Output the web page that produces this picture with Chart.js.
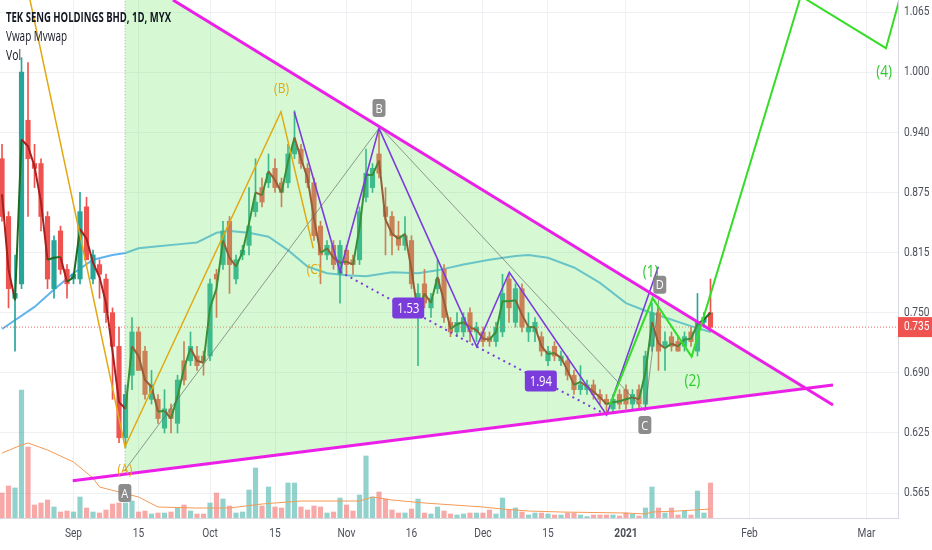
<!DOCTYPE html>
<html>
<head>
<meta charset="utf-8">
<script src="https://cdn.jsdelivr.net/npm/chart.js@4.4.0/dist/chart.umd.min.js"></script>
<style>
  html, body { margin: 0; padding: 0; background: #fff; }
  #wrap { width: 932px; height: 550px; position: relative; }
</style>
</head>
<body>
<div id="wrap"><canvas id="myChart"></canvas></div>
<script>
// daily bars, mid Aug 2020 -> 22 Jan 2021 (index = bar number)
const opens = [
  .910, .850, .765, .780, .950, .905, .905, .850, .775, .835,
  .795, .785, .785, .860, .785, .800, .785, .750, .715, .620,
  .685, .730, .710, .660, .660, .630, .650, .635, .700, .700,
  .705, .705, .705, .790, .800, .845, .785, .810, .820, .855,
  .880, .885, .900, .885, .885, .915, .920, .900, .885, .840,
  .810, .820, .790, .815, .805, .805, .870, .880, .915, .860,
  .850, .830, .820, .825, .760, .780, .755, .775, .795, .740,
  .730, .730, .750, .730, .730, .725, .720, .730, .785, .740,
  .775, .730, .730, .725, .700, .715, .700, .700, .685, .670,
  .670, .675, .665, .660, .650, .665, .670, .655, .670, .655,
  .715, .750, .715, .725, .720, .715, .730, .710, .740, .750];
const highs = [
  .925, .855, .810, 1.015, 1.010, .925, .910, .855, .830, .840,
  .800, .790, .875, .870, .815, .805, .790, .755, .735, .675,
  .745, .735, .715, .690, .665, .670, .655, .685, .720, .730,
  .715, .710, .785, .795, .845, .850, .810, .820, .880, .910,
  .890, .915, .910, .890, .925, .960, .925, .905, .890, .845,
  .825, .825, .825, .820, .810, .860, .920, .905, .940, .880,
  .855, .845, .850, .830, .780, .795, .770, .805, .800, .745,
  .750, .750, .755, .740, .735, .730, .740, .790, .790, .780,
  .780, .750, .745, .730, .715, .720, .710, .705, .690, .695,
  .680, .680, .670, .665, .665, .670, .675, .670, .675, .710,
  .760, .755, .730, .730, .725, .730, .735, .770, .750, .785];
const lows = [
  .845, .755, .710, .775, .850, .880, .835, .775, .765, .790,
  .765, .780, .780, .805, .780, .765, .740, .660, .615, .610,
  .670, .690, .660, .655, .635, .625, .625, .625, .675, .695,
  .690, .685, .700, .745, .795, .770, .780, .805, .810, .850,
  .860, .880, .875, .860, .880, .910, .900, .880, .825, .780,
  .805, .795, .760, .790, .790, .800, .865, .875, .890, .810,
  .810, .815, .815, .775, .695, .755, .745, .770, .740, .725,
  .725, .725, .720, .720, .715, .715, .715, .725, .740, .735,
  .730, .720, .720, .705, .695, .700, .695, .680, .665, .665,
  .665, .660, .655, .645, .645, .650, .650, .650, .650, .650,
  .710, .690, .690, .710, .710, .710, .715, .705, .735, .730];
const closes = [
  .850, .775, .770, 1.000, .910, .900, .850, .785, .825, .795,
  .780, .790, .855, .805, .810, .790, .750, .715, .620, .665,
  .730, .690, .665, .675, .640, .650, .640, .680, .680, .715,
  .695, .700, .780, .785, .835, .800, .805, .815, .840, .865,
  .865, .895, .880, .875, .915, .925, .905, .885, .830, .810,
  .820, .800, .820, .800, .800, .855, .895, .900, .895, .850,
  .830, .820, .830, .780, .770, .760, .765, .785, .745, .730,
  .740, .745, .730, .735, .720, .720, .735, .770, .755, .775,
  .735, .735, .740, .710, .710, .705, .705, .685, .670, .675,
  .675, .665, .660, .655, .660, .655, .655, .665, .655, .705,
  .750, .710, .720, .715, .710, .725, .720, .740, .745, .735];
// volume, thousand shares
const volumes = [
  250, 320, 300, 1280, 710, 130, 150, 180, 110, 60,
  70, 60, 210, 100, 60, 50, 80, 140, 150, 150,
  170, 60, 70, 40, 50, 50, 60, 100, 130, 70,
  40, 40, 150, 250, 190, 120, 50, 60, 280, 500,
  120, 310, 110, 100, 350, 350, 110, 80, 120, 110,
  50, 60, 200, 130, 70, 230, 620, 210, 260, 190,
  80, 50, 50, 90, 190, 50, 40, 110, 70, 40,
  30, 40, 50, 50, 50, 80, 40, 200, 80, 100,
  60, 30, 50, 50, 40, 30, 30, 50, 50, 30,
  15, 30, 30, 30, 30, 20, 50, 40, 20, 100,
  310, 100, 50, 100, 30, 70, 30, 270, 50, 350];
// daily vwap (dark line)
const vwapDaily = [
  .873, .795, .763, .930, .923, .902, .865, .805, .807, .808,
  .782, .787, .837, .827, .802, .787, .760, .710, .657, .650,
  .715, .705, .680, .673, .647, .648, .640, .663, .692, .713,
  .700, .698, .755, .775, .825, .807, .798, .813, .843, .875,
  .872, .897, .888, .875, .907, .932, .910, .890, .848, .812,
  .817, .807, .802, .803, .800, .838, .893, .893, .908, .847,
  .832, .827, .832, .795, .748, .770, .760, .787, .762, .733,
  .738, .740, .735, .732, .723, .722, .730, .762, .762, .763,
  .748, .735, .735, .715, .707, .708, .703, .690, .675, .678,
  .673, .668, .662, .655, .657, .658, .660, .662, .660, .688,
  .740, .718, .713, .718, .715, .722, .723, .738, .743, .750];
// moving vwap (light blue), read at some bars
const mvwapBar = [0, 5, 8, 11, 14, 17, 19, 21, 24, 27, 30, 33, 35, 38, 41, 44, 47, 50, 53, 56, 60, 64, 67, 71, 75, 79, 81, 84, 88, 92, 96, 99, 102, 106, 109];
const mvwapVal = [.733, .756, .774, .791, .805, .810, .812, .817, .819, .821, .823, .833, .835, .833, .829, .815, .798, .791, .789, .788, .792, .791, .794, .800, .805, .809, .810, .807, .797, .781, .760, .752, .745, .736, .730];
// volume moving average (orange)
const volMaBar = [0, 3, 4, 7, 11, 14, 15, 18, 21, 24, 30, 35, 40, 44, 46, 55, 57, 60, 65, 74, 77, 81, 86, 96, 99, 100, 104, 109];
const volMaVal = [650, 730, 750, 680, 560, 400, 310, 260, 210, 110, 100, 100, 140, 160, 170, 170, 210, 180, 150, 110, 90, 70, 60, 50, 40, 60, 70, 90];

const xTickPos = [11, 21, 32, 42, 53, 63, 74, 84, 96, 115, 133];
const xTickLabels = ['Sep', '15', 'Oct', '15', 'Nov', '16', 'Dec', '15', '2021', 'Feb', 'Mar'];
const yTickPos = [0.5625, 0.625, 0.6875, 0.75, 0.8125, 0.875, 0.9375, 1.0, 1.0625];
const yTickLabels = ['0.565', '0.625', '0.690', '0.750', '0.815', '0.875', '0.940', '1.000', '1.065'];
const lastPrice = 0.735;

// drawings, in (bar, price)
const upperTrend = [{x: 26.3, y: 1.075}, {x: 127.85, y: 0.6541}];
const lowerTrend = [{x: 10.88, y: 0.5754}, {x: 127.85, y: 0.6749}];
const triangle = [{x: 18.92, y: 1.1056}, {x: 123.85, y: 0.6713}, {x: 18.92, y: 0.5823}, {x: 18.92, y: 1.1056}];
const abcWave = [{x: 3.49, y: 1.101}, {x: 18.92, y: 0.6107}, {x: 42.92, y: 0.9589}, {x: 47.89, y: 0.8169}];
const purpleZig = [{x: 44.97, y: 0.9589}, {x: 52.0, y: 0.7926}, {x: 58.0, y: 0.9416}, {x: 73.03, y: 0.7147}, {x: 78.05, y: 0.7920}, {x: 93.03, y: 0.6437}, {x: 100.97, y: 0.7978}];
const purpleDots = [{x: 52.0, y: 0.7926}, {x: 73.03, y: 0.7147}, {x: 93.03, y: 0.6437}];
const abcdLegs = [{x: 18.92, y: 0.5865}, {x: 58.15, y: 0.943}, {x: 98.92, y: 0.6478}, {x: 101.08, y: 0.7653}];
const impulse = [{x: 93.54, y: 0.6541}, {x: 100.1, y: 0.7650}, {x: 106.1, y: 0.7043}, {x: 122.9, y: 1.0791}, {x: 136.0, y: 1.0249}, {x: 138.9, y: 1.0958}];

const waveText = ['(A)', '(B)', '(C)', '(1)', '(2)', '(4)'];
const waveAtX = [18.9, 43.0, 48.0, 99.8, 106.2, 135.7];
const waveAtY = [0.5865, 0.9825, 0.7944, 0.7923, 0.6790, 1.0001];
const pointText = ['A', 'B', 'C', 'D'];
const pointAtX = [18.9, 58.0, 98.9, 101.2];
const pointAtY = [0.5626, 0.9627, 0.6333, 0.7790];
const ratioText = ['1.53', '1.94'];
const ratioAtX = [62.5, 82.9];
const ratioAtY = [0.7549, 0.679];

const UP = '#26a69a', DOWN = '#ef5350';
const isUp = i => closes[i] >= opens[i];
const bars = closes.map((c, i) => i);

function squeezeText(ctx, txt, x, y, font, color, align, sx) {
  ctx.save();
  ctx.font = font;
  ctx.fillStyle = color;
  ctx.textBaseline = 'middle';
  ctx.textAlign = 'left';
  const w = ctx.measureText(txt).width * sx;
  let left = x;
  if (align === 'center') left = x - w / 2;
  if (align === 'right') left = x - w;
  ctx.translate(left, y);
  ctx.scale(sx, 1);
  ctx.fillText(txt, 0, 0);
  ctx.restore();
}
function fitText(ctx, txt, x, y, font, color, width) {
  ctx.save();
  ctx.font = font;
  const sx = width / ctx.measureText(txt).width;
  ctx.restore();
  squeezeText(ctx, txt, x, y, font, color, 'left', sx);
}
function roundBox(ctx, cx, cy, w, h, r, fill) {
  const x = cx - w / 2, y = cy - h / 2;
  ctx.beginPath();
  ctx.moveTo(x + r, y);
  ctx.arcTo(x + w, y, x + w, y + h, r);
  ctx.arcTo(x + w, y + h, x, y + h, r);
  ctx.arcTo(x, y + h, x, y, r);
  ctx.arcTo(x, y, x + w, y, r);
  ctx.closePath();
  ctx.fillStyle = fill;
  ctx.fill();
}

const marks = {
  id: 'marks',
  afterDatasetsDraw(chart) {
    const ctx = chart.ctx, xs = chart.scales.x, ys = chart.scales.y;
    ctx.save();
    const a = chart.chartArea;
    ctx.beginPath();
    ctx.rect(a.left, a.top, a.right - a.left, a.bottom - a.top);
    ctx.clip();
    waveText.forEach((t, i) => {
      const col = i < 3 ? '#e3a80f' : '#2ecb2e';
      const size = i < 3 ? 15 : 17;
      squeezeText(ctx, t, xs.getPixelForValue(waveAtX[i]), ys.getPixelForValue(waveAtY[i]), size + 'px "Open Sans"', col, 'center', 0.8);
    });
    pointText.forEach((t, i) => {
      const cx = xs.getPixelForValue(pointAtX[i]), cy = ys.getPixelForValue(pointAtY[i]);
      roundBox(ctx, cx, cy, 13, 18, 3, 'rgba(128,128,128,0.9)');
      squeezeText(ctx, t, cx, cy + 1, '13px "Open Sans"', '#fff', 'center', 0.85);
    });
    ratioText.forEach((t, i) => {
      const cx = xs.getPixelForValue(ratioAtX[i]), cy = ys.getPixelForValue(ratioAtY[i]);
      roundBox(ctx, cx, cy, 32, 21, 3, '#7b3cdc');
      squeezeText(ctx, t, cx, cy + 1, '14px "Open Sans"', '#fff', 'center', 0.8);
    });
    ctx.restore();
  },
  afterDraw(chart) {
    const ctx = chart.ctx, xs = chart.scales.x, ys = chart.scales.y;
    const a = chart.chartArea;
    // header
    fitText(ctx, 'TEK SENG HOLDINGS BHD, 1D, MYX', 6, 18, 'bold 14px "Open Sans"', '#131722', 165);
    fitText(ctx, 'Vwap Mvwap', 6, 37, '14px "Open Sans"', '#131722', 61);
    fitText(ctx, 'Vol', 6, 56, '14px "Open Sans"', '#131722', 15);
    // axis labels
    xs.ticks.forEach(t => {
      const k = xTickPos.indexOf(t.value);
      if (k < 0) return;
      const lab = xTickLabels[k];
      squeezeText(ctx, lab, xs.getPixelForValue(t.value), a.bottom + 16,
        (lab === '2021' ? 'bold ' : '') + '13px Roboto', '#4c4f59', 'center', 0.78);
    });
    ys.ticks.forEach(t => {
      const k = yTickPos.indexOf(t.value);
      if (k < 0) return;
      squeezeText(ctx, yTickLabels[k], a.right + 6, ys.getPixelForValue(t.value), '13px Roboto', '#4c4f59', 'left', 0.78);
    });
    // last price tag
    const py = ys.getPixelForValue(lastPrice);
    ctx.fillStyle = '#ef5350';
    ctx.fillRect(a.right, py - 10, chart.width - a.right, 20);
    squeezeText(ctx, lastPrice.toFixed(3), a.right + 6, py, '13px Roboto', '#fff', 'left', 0.78);
  }
};

function line(data, color, width, order, extra) {
  return Object.assign({
    type: 'line', data: data, borderColor: color, borderWidth: width,
    pointRadius: 0, tension: 0, fill: false, order: order, yAxisID: 'y'
  }, extra || {});
}

const datasets = [
  {
    type: 'bar', yAxisID: 'yv', order: 100, grouped: false, barThickness: 4.5,
    data: bars.map(i => ({x: i, y: volumes[i]})),
    backgroundColor: bars.map(i => isUp(i) ? 'rgba(38,166,154,0.5)' : 'rgba(239,83,80,0.5)')
  },
  line(volMaBar.map((b, k) => ({x: b, y: volMaVal[k]})), '#f39a55', 1, 95, {yAxisID: 'yv'}),
  line(mvwapBar.map((b, k) => ({x: b, y: mvwapVal[k]})), '#62b4ee', 2, 90),
  {
    type: 'bar', yAxisID: 'y', order: 80, grouped: false, barThickness: 1,
    data: bars.map(i => ({x: i, y: [lows[i], highs[i]]})),
    backgroundColor: bars.map(i => isUp(i) ? UP : DOWN)
  },
  {
    type: 'bar', yAxisID: 'y', order: 75, grouped: false, barThickness: 4.5, minBarLength: 1,
    data: bars.map(i => ({x: i, y: [opens[i], closes[i]]})),
    backgroundColor: bars.map(i => isUp(i) ? UP : DOWN)
  },
  line(bars.map(i => ({x: i, y: vwapDaily[i]})), '#1d6b21', 2, 70, {
    segment: { borderColor: c => c.p1.parsed.y >= c.p0.parsed.y ? '#1d6b21' : '#a3211f' }
  }),
  line([{x: -2, y: lastPrice}, {x: 140, y: lastPrice}], 'rgba(239,83,80,0.85)', 1, 65, {borderDash: [1, 2]}),
  line(triangle, 'rgba(140,140,140,0.7)', 1, 60, {fill: 'shape', backgroundColor: 'rgba(120,235,110,0.3)', borderDash: [1, 2]}),
  line(abcdLegs, 'rgba(100,100,100,0.65)', 1, 50),
  line(abcWave, '#e3a80f', 1.5, 40),
  line(purpleDots, '#7b3cdc', 2, 32, {borderDash: [2, 4]}),
  line(purpleZig, '#7b3cdc', 1.6, 30),
  line(upperTrend, '#ec1fe8', 3, 20),
  line(lowerTrend, '#ec1fe8', 3, 20),
  line(impulse, '#36dd28', 2, 10)
];

new Chart(document.getElementById('myChart'), {
  type: 'line',
  data: { datasets: datasets },
  plugins: [marks],
  options: {
    responsive: true,
    maintainAspectRatio: false,
    animation: false,
    layout: { padding: 0 },
    plugins: { legend: { display: false }, tooltip: { enabled: false } },
    scales: {
      x: {
        type: 'linear', min: -0.31, max: 137.85, offset: false,
        grid: { color: '#eef0f4', drawTicks: false, offset: false },
        border: { color: '#d6d9e0' },
        ticks: { display: false },
        afterBuildTicks: s => { s.ticks = xTickPos.map(v => ({value: v})); },
        afterFit: s => { s.height = 32; }
      },
      y: {
        type: 'linear', position: 'right', min: 0.5366, max: 1.075,
        grid: { color: '#eef0f4', drawTicks: false },
        border: { color: '#d6d9e0' },
        ticks: { display: false },
        afterBuildTicks: s => { s.ticks = yTickPos.map(v => ({value: v})); },
        afterFit: s => { s.width = 34; }
      },
      yv: { type: 'linear', display: false, min: 0, max: 5180 }
    }
  }
});
</script>
</body>
</html>
